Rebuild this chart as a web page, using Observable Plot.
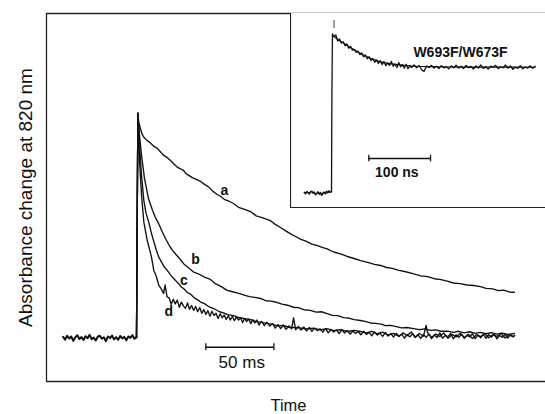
<!DOCTYPE html>
<html><head><meta charset="utf-8">
<script src="https://cdn.jsdelivr.net/npm/d3@7"></script>
<script src="https://cdn.jsdelivr.net/npm/@observablehq/plot@0.6"></script>
<style>
html,body{margin:0;padding:0;background:#fff;overflow:hidden}
#chart{position:relative;width:545px;height:414px;background:#fff}
#chart svg{display:block}
</style></head><body><div id="chart"></div>
<script>
// ---- main panel: time (ms) vs absorbance change (relative units, peak = 100) ----
const baseline = [[-54,0.4],[-52.5,-0.8],[-51,0.9],[-49.5,-0.3],[-48,0.6],[-46.5,-1.4],[-45,0.2],[-43.5,1.1],[-42,-0.5],[-40.5,0.3],[-39,-1.0],[-37.5,0.7],[-36,-0.2],[-34.5,1.3],[-33,-0.6],[-31.5,0.1],[-30,-1.2],[-28.5,0.5],[-27,0.9],[-25.5,-0.4],[-24,0.2],[-22.5,-1.5],[-21,0.6],[-19.5,-0.1],[-18,1.0],[-16.5,-0.7],[-15,0.3],[-13.5,-0.9],[-12,0.8],[-10.5,-0.3],[-9,0.4],[-7.5,-1.1],[-6,0.6],[-4.5,0.0],[-3,1.2],[-1.5,-0.4],[0,0.2]];

const curveA = [[0,0.2],[1,100],[1.6,96],[2.9,93.2],[4,90.8],[5.4,89.3],[7.5,88.0],[10.3,86.7],[12.8,85.2],[15.4,84.3],[18,82.5],[20.1,81.2],[22.5,80.3],[25,78.9],[27.5,77.4],[29.9,76.0],[32,75.3],[34.6,74.5],[36.5,73.0],[38.5,72.3],[41,71.3],[44,70.5],[47.1,69.6],[50,68.3],[53,67.2],[56,65.3],[59.3,63.8],[62,62.9],[65,61.5],[68,60.8],[71.3,59.8],[75,58.1],[79,57.3],[83.8,56.2],[88,54.3],[93,53.4],[98.3,52.2],[102,50.5],[105.9,49.1],[110,47.5],[113,46.4],[116.9,45.1],[121,43.8],[125,42.9],[129,41.7],[133,41.0],[136.5,40.3],[140.2,39.6],[145,38.2],[150,37.4],[155,36.2],[160,35.3],[164.7,34.4],[170,33.6],[175,32.7],[179.4,32.2],[184,31.3],[188,30.9],[193,30.0],[198,29.4],[203.9,28.5],[209,27.6],[214,27.2],[219,26.3],[224,25.9],[228.5,25.2],[233,24.4],[238,24.1],[243,23.5],[248,23.3],[252.9,22.8],[257,22.0],[262,21.8],[266,21.0],[270,21.2],[274,20.4],[277.9,20.3]];

const curveB = [[0,0.2],[1,100],[2.2,90.1],[3.7,81.2],[5.9,70.9],[8.8,62],[11.8,56.7],[14,53.4],[16.4,50.7],[19,47.1],[21.3,44.2],[24,41.2],[26.5,38.9],[29,37.1],[31.5,35.4],[34.8,32.9],[38,31.3],[42.1,29.2],[46,28.3],[50,27.0],[54.4,26.0],[58,24.1],[62,22.9],[66.7,21.1],[70,20.6],[74.5,19.9],[78.7,19.1],[83,18.3],[87,18.0],[91.2,17.5],[95,16.5],[99,16.3],[103.5,15.7],[107,15.0],[111,14.5],[115.4,13.6],[119,13.4],[123,12.5],[127.9,12.2],[132,11.4],[136,11.6],[140.2,10.8],[144,10.0],[148,9.9],[152.2,9.0],[156,8.8],[160,8.1],[164.7,7.7],[168,7.3],[172,6.6],[175.7,6.4],[180,6.1],[183,5.4],[186.8,5.5],[191,5.0],[195,4.4],[199,4.6],[203.7,4.1],[208,3.6],[212,4.0],[216,3.3],[220,3.5],[224,2.9],[228.7,3.0],[233,2.4],[237,2.9],[241,2.2],[245,2.7],[249,2.0],[252.9,2.4],[257,1.8],[261,2.3],[265,1.6],[269,2.1],[273,1.5],[277.9,1.9]];

const curveC = [[0,0.2],[1,100],[2.2,85.6],[3.7,72.3],[5.4,61.1],[7,55.5],[9,51.5],[11,46.5],[12.5,43.3],[14.5,39.2],[16.4,35.9],[18.5,33.6],[20.5,31.5],[22.6,30],[25,28],[27,26.6],[28.7,25.5],[31,24.1],[33,22.6],[35,21.7],[37.3,20.3],[40,19.3],[42.5,17.8],[45,16.9],[47.1,15.9],[50,15.2],[53,13.9],[55.5,13.3],[58.1,12.6],[61,11.6],[64,11.1],[67,10.3],[71.3,9.9],[75,9.1],[79,8.6],[83.8,8.1],[88,7.2],[92,6.9],[96.1,6.4],[100,6.0],[104,5.3],[108,5.5],[112,4.7],[115.4,4.6],[120,4.4],[125,3.9],[130,4.3],[135,3.5],[140,4.1],[145,3.2],[150,3.6],[155,2.8],[160,3.3],[164.7,2.8],[169,2.2],[173,2.9],[177,1.8],[181,2.5],[185,1.2],[189,2.0],[193,0.6],[196,2.2],[199,0.9],[202,2.6],[205,0.3],[208,1.9],[211,0.7],[213,5.5],[214,2.3],[217,0.2],[220,1.7],[223,0.6],[226,2.1],[229,-0.2],[232,1.5],[235,0.4],[238,2.0],[241,0.1],[244,1.6],[247,-0.3],[250,1.4],[253,0.5],[256,1.9],[259,0.0],[262,1.3],[265,0.6],[268,2.0],[271,-0.1],[274,1.5],[277,0.4],[278,1.0]];

const curveD = [[0,0.2],[1,100],[2.2,79],[3.7,63.4],[5.4,51.5],[7.9,43.3],[9.8,38.9],[11,36],[12.7,30],[14.5,27.5],[16.4,23.3],[18,22],[19.9,19.7],[21,23.5],[22.5,18.2],[24,17.8],[25.5,14.9],[27,17.2],[28.5,15.1],[30,16.8],[31.5,13.6],[33,15.9],[34.5,14.2],[36,13.1],[37.5,15.5],[39,12.7],[40.5,14.4],[42,12.2],[43.5,13.9],[45,11.6],[46.5,13.5],[48,10.9],[49.5,12.6],[51,10.4],[52.5,12.1],[54,9.6],[55.5,11.8],[57,9.9],[58.5,10.9],[60,8.6],[61.5,10.7],[63,8.9],[64.5,10.1],[66,8.2],[67.5,9.8],[69,7.9],[70.5,9.6],[72,7.6],[73.5,9.3],[75,7.9],[76.5,8.9],[78,6.8],[79.5,8.6],[81,7.2],[82.5,8.4],[84,6.3],[85.5,8.1],[87,6.6],[88.5,7.9],[90,5.7],[92,7.3],[94,5.4],[96,6.9],[98,5.2],[100,6.4],[102,4.3],[104,5.9],[106,4.1],[108,5.6],[110,3.8],[112,5.3],[114,4.0],[115.5,8.9],[117,3.6],[119,5.1],[121,3.4],[123,4.8],[125,3.1],[127,4.6],[129,2.9],[131,4.3],[133,3.2],[135,4.0],[137,2.5],[139,4.1],[141,2.2],[143,3.7],[145,2.6],[147,3.5],[149,1.9],[151,3.6],[153,2.1],[155,3.2],[157,1.6],[159,3.0],[161,1.9],[163,2.8],[165,1.3],[167,2.9],[169,1.5],[171,2.4],[173,0.9],[175,2.6],[177,1.2],[179,2.1],[181,0.6],[183,2.3],[185,0.8],[187,1.9],[189,0.3],[191,2.0],[193,0.7],[195,1.6],[197,-0.2],[199,1.5],[201,0.4],[203,1.8],[205,0.1],[207,1.3],[209,-0.3],[211,1.5],[213,0.2],[215,1.7],[217,-0.4],[219,1.2],[221,0.1],[223,2.2],[225,-0.2],[227,1.0],[229,0.5],[231,1.9],[233,-0.5],[235,1.3],[237,0.2],[239,1.6],[241,-0.3],[243,1.1],[245,0.4],[247,1.8],[249,-0.4],[251,1.2],[253,0.0],[255,1.5],[257,-0.2],[259,1.4],[261,0.3],[263,1.7],[265,-0.5],[267,1.0],[269,0.2],[271,1.6],[273,-0.1],[275,1.2],[277,0.5],[278,0.9]];

const curveNames = ["a", "b", "c", "d"];
const labelTimes = [64.7, 43.4, 34.8, 23.8];
const labelValues = [65.6, 34.7, 25.5, 11.5];

const mainXDomain = [-66.18, 300.74];
const mainYDomain = [-19.46, 144.39];
const mainScaleBar = {t1: 51, t2: 101, v: -4.2, text: "50 ms", textT: 77.4, textV: -11.0};
const yTitle = "Absorbance change at 820 nm";
const xTitle = "Time";

// ---- inset: time (ns) vs absorbance change (peak = 100) ----
const insetName = "W693F/W673F";
const insetBaseline = [[-44,0.3],[-42,-0.5],[-40,0.8],[-38,0.1],[-36,-0.7],[-34,0.5],[-32,1.0],[-30,-0.2],[-28,0.4],[-26,-1.2],[-24,-0.4],[-22,0.6],[-20,-0.9],[-18,0.2],[-16,-1.5],[-14,-0.3],[-12,0.4],[-10,-0.6],[-8,0.9],[-6,0.1],[-4,1.2],[-2,0.3],[0,0.8]];
const insetTrace = [[0,0.8],[0.6,60],[1.5,101],[4,99.2],[7,100.3],[10,96.5],[13,97.8],[16,95.1],[19,96.0],[22,93.4],[25,94.6],[28,91.8],[31,93.0],[34,90.7],[37,91.2],[40,89.3],[43,90.1],[46,87.8],[49,88.9],[52,86.4],[55,87.6],[58,85.2],[61,86.5],[64,84.1],[67,85.3],[70,83.0],[73,84.4],[76,82.3],[79,83.9],[82,81.5],[85,83.4],[88,80.8],[91,82.6],[94,81.0],[97,83.5],[100,80.4],[103,81.9],[106,79.6],[109,82.8],[112,80.1],[115,81.4],[118,79.2],[121,81.7],[124,78.9],[127,80.6],[130,79.6],[134,81.2],[138,79.4],[142,80.9],[146,78.2],[150,77.1],[154,80.6],[158,79.6],[162,81.0],[166,79.3],[170,80.5],[174,79.0],[178,80.8],[182,79.4],[186,80.2],[190,78.8],[194,80.7],[198,79.5],[202,81.1],[206,79.2],[210,80.4],[214,78.9],[218,80.9],[222,79.6],[226,80.3],[230,78.7],[234,80.6],[238,79.3],[242,81.3],[246,79.0],[250,80.2],[254,78.6],[258,80.5],[262,79.8],[266,81.0],[270,78.9],[274,80.1],[278,79.4],[282,81.2],[286,79.2],[290,80.6],[294,78.5],[298,79.9],[302,79.1],[306,80.8],[310,78.8],[314,80.0],[318,79.3],[322,80.7],[326,79.1],[330,80.5]];
const insetFit = [[2,100],[10,97.5],[20,95],[30,92.5],[45,89],[60,86],[80,83.2],[100,81.8],[130,80.6],[170,80.1],[220,79.9],[330,79.8]];
const insetArtifact = {t: 4, v1: 104.4, v2: 109.5};
const insetXDomain = [-66.45, 346.8];
const insetYDomain = [-9.32, 113.95];
const insetScaleBar = {t1: 60.5, t2: 160.5, v: 21.8, text: "100 ns", textT: 105.9, textV: 12.7};
const insetLabel = {t: 209, v: 89.2};

// ---- build ----
const FONT = "'Liberation Sans', Arial, Helvetica, sans-serif";
const rows = (series, pts) => pts.map(([t, v]) => ({series, t, v}));
const mainRows = [
  ...rows("a", curveA), ...rows("b", curveB), ...rows("c", curveC), ...rows("d", curveD)
];
const labelRows = curveNames.map((n, i) => ({label: n, t: labelTimes[i], v: labelValues[i]}));
const barEnds = (b, h) => [b.t1, b.t2].map(t => ({t, y1: b.v - h, y2: b.v + h}));

const main = Plot.plot({
  width: 545, height: 414,
  marginTop: 13, marginLeft: 46, marginRight: 0, marginBottom: 33,
  x: {domain: mainXDomain, axis: null},
  y: {domain: mainYDomain, axis: null},
  style: {fontFamily: FONT, background: "white", color: "#111"},
  marks: [
    Plot.ruleX([mainXDomain[0]], {stroke: "#222", strokeWidth: 1.3}),
    Plot.ruleY(mainYDomain, {stroke: "#222", strokeWidth: 1.3}),
    Plot.line(baseline, {x: d => d[0], y: d => d[1], stroke: "#111", strokeWidth: 2}),
    Plot.line(mainRows, {x: "t", y: "v", z: "series", stroke: "#111", strokeWidth: 1.35}),
    Plot.text(labelRows, {x: "t", y: "v", text: "label", fontSize: 14, fontWeight: "bold", fill: "#111"}),
    Plot.ruleY([mainScaleBar], {x1: "t1", x2: "t2", y: "v", stroke: "#111", strokeWidth: 1.3}),
    Plot.ruleX(barEnds(mainScaleBar, 1.5), {x: "t", y1: "y1", y2: "y2", stroke: "#111", strokeWidth: 1.3}),
    Plot.text([mainScaleBar], {x: "textT", y: "textV", text: "text", fontSize: 17, fill: "#111"}),
    Plot.text([yTitle], {frameAnchor: "left", textAnchor: "middle", lineAnchor: "middle", dx: -21, rotate: -90, fontSize: 19, fill: "#111", text: d => d}),
    Plot.text([xTitle], {frameAnchor: "bottom", textAnchor: "middle", lineAnchor: "middle", dy: 24, dx: -7.5, fontSize: 16.5, fill: "#111", text: d => d})
  ]
});

const inset = Plot.plot({
  width: 255, height: 195,
  marginTop: 0, marginLeft: 0, marginRight: 0, marginBottom: 1,
  x: {domain: insetXDomain, axis: null},
  y: {domain: insetYDomain, axis: null},
  style: {fontFamily: FONT, background: "white", color: "#111"},
  marks: [
    Plot.ruleX([insetXDomain[0]], {stroke: "#222", strokeWidth: 1.2}),
    Plot.ruleY([insetYDomain[0]], {stroke: "#222", strokeWidth: 1.2}),
    Plot.line(insetBaseline, {x: d => d[0], y: d => d[1], stroke: "#111", strokeWidth: 1.6}),
    Plot.line(insetTrace, {x: d => d[0], y: d => d[1], stroke: "#111", strokeWidth: 1.3}),
    Plot.line(insetFit, {x: d => d[0], y: d => d[1], stroke: "#111", strokeWidth: 1.2, curve: "monotone-x"}),
    Plot.ruleX([insetArtifact], {x: "t", y1: "v1", y2: "v2", stroke: "#555", strokeWidth: 1.2}),
    Plot.ruleY([insetScaleBar], {x1: "t1", x2: "t2", y: "v", stroke: "#111", strokeWidth: 1.3}),
    Plot.ruleX(barEnds(insetScaleBar, 2.1), {x: "t", y1: "y1", y2: "y2", stroke: "#111", strokeWidth: 1.3}),
    Plot.text([insetScaleBar], {x: "textT", y: "textV", text: "text", fontSize: 14, fontWeight: "bold", fill: "#111"}),
    Plot.text([insetLabel], {x: "t", y: "v", text: () => insetName, fontSize: 14, fontWeight: "bold", fill: "#111"})
  ]
});

const chart = document.getElementById("chart");
chart.appendChild(main);
inset.style.position = "absolute";
inset.style.left = "290px";
inset.style.top = "13px";
inset.style.maxWidth = "none";
chart.appendChild(inset);
</script>
</body></html>
